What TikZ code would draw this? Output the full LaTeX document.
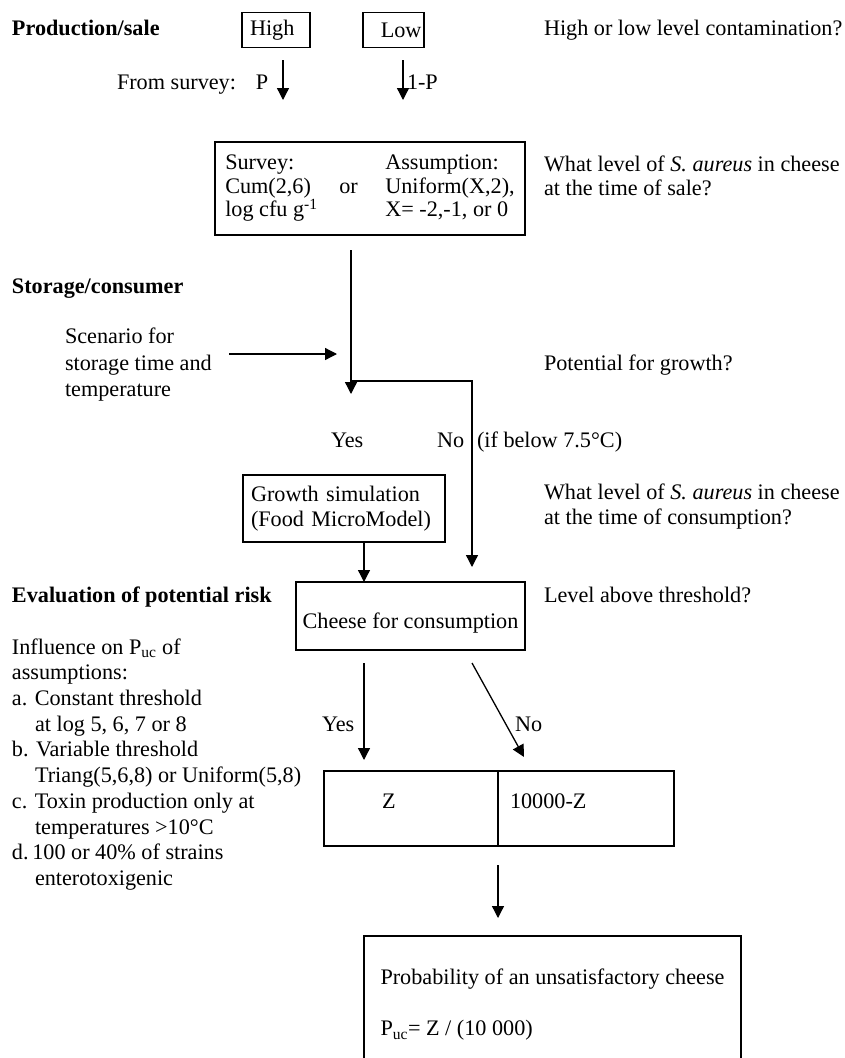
\documentclass[tikz,border=0pt]{standalone}
\usepackage{fontspec}
\setmainfont{Liberation Serif}
\usetikzlibrary{arrows.meta}
\begin{document}
\begin{tikzpicture}[x=1pt,y=-1pt,
  every node/.style={inner sep=0pt, outer sep=0pt, font=\fontsize{22.2}{25.6}\selectfont},
  txt/.style={anchor=base west},
  head/.style={anchor=base west, font=\fontsize{22.2}{25.6}\selectfont\bfseries},
  boxed/.style={draw, line width=1.3pt, rectangle},
  arr/.style={line width=1.3pt, -{Triangle[length=12pt,width=12pt]}},
]
\useasboundingbox (0,0) rectangle (844,1058);
\fill[white] (0,0) rectangle (844,1058);
\clip (0,0) rectangle (844,1058);

% ---------- Production / sale ----------
\node[head] (prod) at (12,35) {Production/sale};
\node[boxed, minimum height=35pt, inner xsep=8pt] (high) at (276,30) {\makebox[52pt][l]{High}};
\node[boxed, minimum height=35pt, inner xsep=2.5pt] (low) at (393.5,30) {\makebox[56pt][r]{Low}};
\node[txt] (qa) at (544,35) {High or low level contamination?};

\node[txt] (fs) at (117,89) {From survey:\hspace{20pt}P};
\node[txt] (onep) at (407,89) {1-P};
\coordinate (h1) at (283,60); \coordinate (h2) at (283,100);
\coordinate (l1) at (403,60); \coordinate (l2) at (403,100);
\draw[arr] (h1) -- (h2);
\draw[arr] (l1) -- (l2);

\node[boxed, minimum width=310pt, minimum height=93pt, align=left,
      font=\fontsize{22.2}{23.5}\selectfont] (survey) at (370,188.5)
  {\makebox[160pt][l]{Survey:}Assumption:\\
   \makebox[114pt][l]{Cum(2,6)}\makebox[46pt][l]{or}Uniform(X,2),\\
   \makebox[160pt][l]{log cfu g\textsuperscript{-1}}X= -2,-1, or 0};
\node[txt] (qb1) at (544,171) {What level of \textit{S. aureus} in cheese};
\node[txt] (qb2) at (544,195) {at the time of sale?};

% ---------- Storage / consumer ----------
\node[head] (stor) at (12,293) {Storage/consumer};
\node[txt] (sc1) at (65,343) {Scenario for};
\node[txt] (sc2) at (65,370) {storage time and};
\node[txt] (sc3) at (65,396) {temperature};
\coordinate (scs) at (229,354); \coordinate (sce) at (337,354);
\draw[arr] (scs) -- (sce);
\node[txt] (qc) at (544,370) {Potential for growth?};

\coordinate (s1) at (351,250);
\coordinate (split) at (351,381);
\coordinate (yestip) at (351,394);
\coordinate (nocorner) at (472,381);
\coordinate (notip) at (472,567);
\draw[arr] (s1) -- (yestip);
\draw[arr] (split) -- (nocorner) -- (notip);

\node[txt] (yes1) at (331,447) {Yes};
\node[txt] (no1) at (437,447) {No};
\node[txt] (nocond) at (477,447) {(if below 7.5°C)};

\node[boxed, minimum width=202pt, minimum height=67pt, text width=186pt, inner xsep=8pt, align=left,
      font=\fontsize{22.2}{25}\selectfont] (growth) at (344,508.5)
  {Growth simulation\\(Food MicroModel)};
\node[txt] (qd1) at (544,499) {What level of \textit{S. aureus} in cheese};
\node[txt] (qd2) at (544,524) {at the time of consumption?};

% ---------- Evaluation ----------
\node[boxed, minimum width=229pt, minimum height=68pt, text height=29pt, text depth=5pt] (cheese) at (410.5,616) {Cheese for consumption};
\draw[arr] ([xshift=20pt]growth.south) -- ([xshift=20pt]growth.south |- cheese.north);

\node[head] (evalh) at (12,602) {Evaluation of potential risk};
\node[txt] (qe) at (544,602) {Level above threshold?};

\node[txt] (i1) at (12,654) {Influence on P\textsubscript{uc} of};
\node[txt] (i2) at (12,679) {assumptions:};
\node[txt] (i3) at (12,705) {a. Constant threshold};
\node[txt] (i4) at (35,731) {at log 5, 6, 7 or 8};
\node[txt] (i5) at (12,756) {b. Variable threshold};
\node[txt] (i6) at (35,782) {Triang(5,6,8) or Uniform(5,8)};
\node[txt] (i7) at (12,808) {c. Toxin production only at};
\node[txt] (i8) at (35,834) {temperatures >10°C};
\node[txt] (i9) at (12,859) {d.\,100 or 40\% of strains};
\node[txt] (i10) at (35,885) {enterotoxigenic};

\coordinate (ya) at (364,663); \coordinate (yb) at (364,760);
\coordinate (na) at (472,663); \coordinate (nb) at (524,757);
\draw[arr] (ya) -- (yb);
\draw[arr] (na) -- (nb);
\node[txt] (yes2) at (322,731) {Yes};
\node[txt] (no2) at (515,731) {No};

\node[boxed, minimum height=75pt, inner xsep=58pt, text height=5pt, text depth=5pt] (zl) at (411,808.5) {\makebox[58pt][l]{Z}};
\node[boxed, minimum height=75pt, inner xsep=12pt, text height=5pt, text depth=5pt] (zr) at (586,808.5) {\makebox[152pt][l]{10000-Z}};

\coordinate (pa) at (498,865); \coordinate (pb) at (498,918);
\draw[arr] (pa) -- (pb);

\node[boxed, anchor=north, minimum width=377pt, minimum height=138pt, align=left] (prob) at (552.5,936)
  {Probability of an unsatisfactory cheese\\[25.4pt]P\textsubscript{uc}= Z / (10 000)};
\end{tikzpicture}
\end{document}
